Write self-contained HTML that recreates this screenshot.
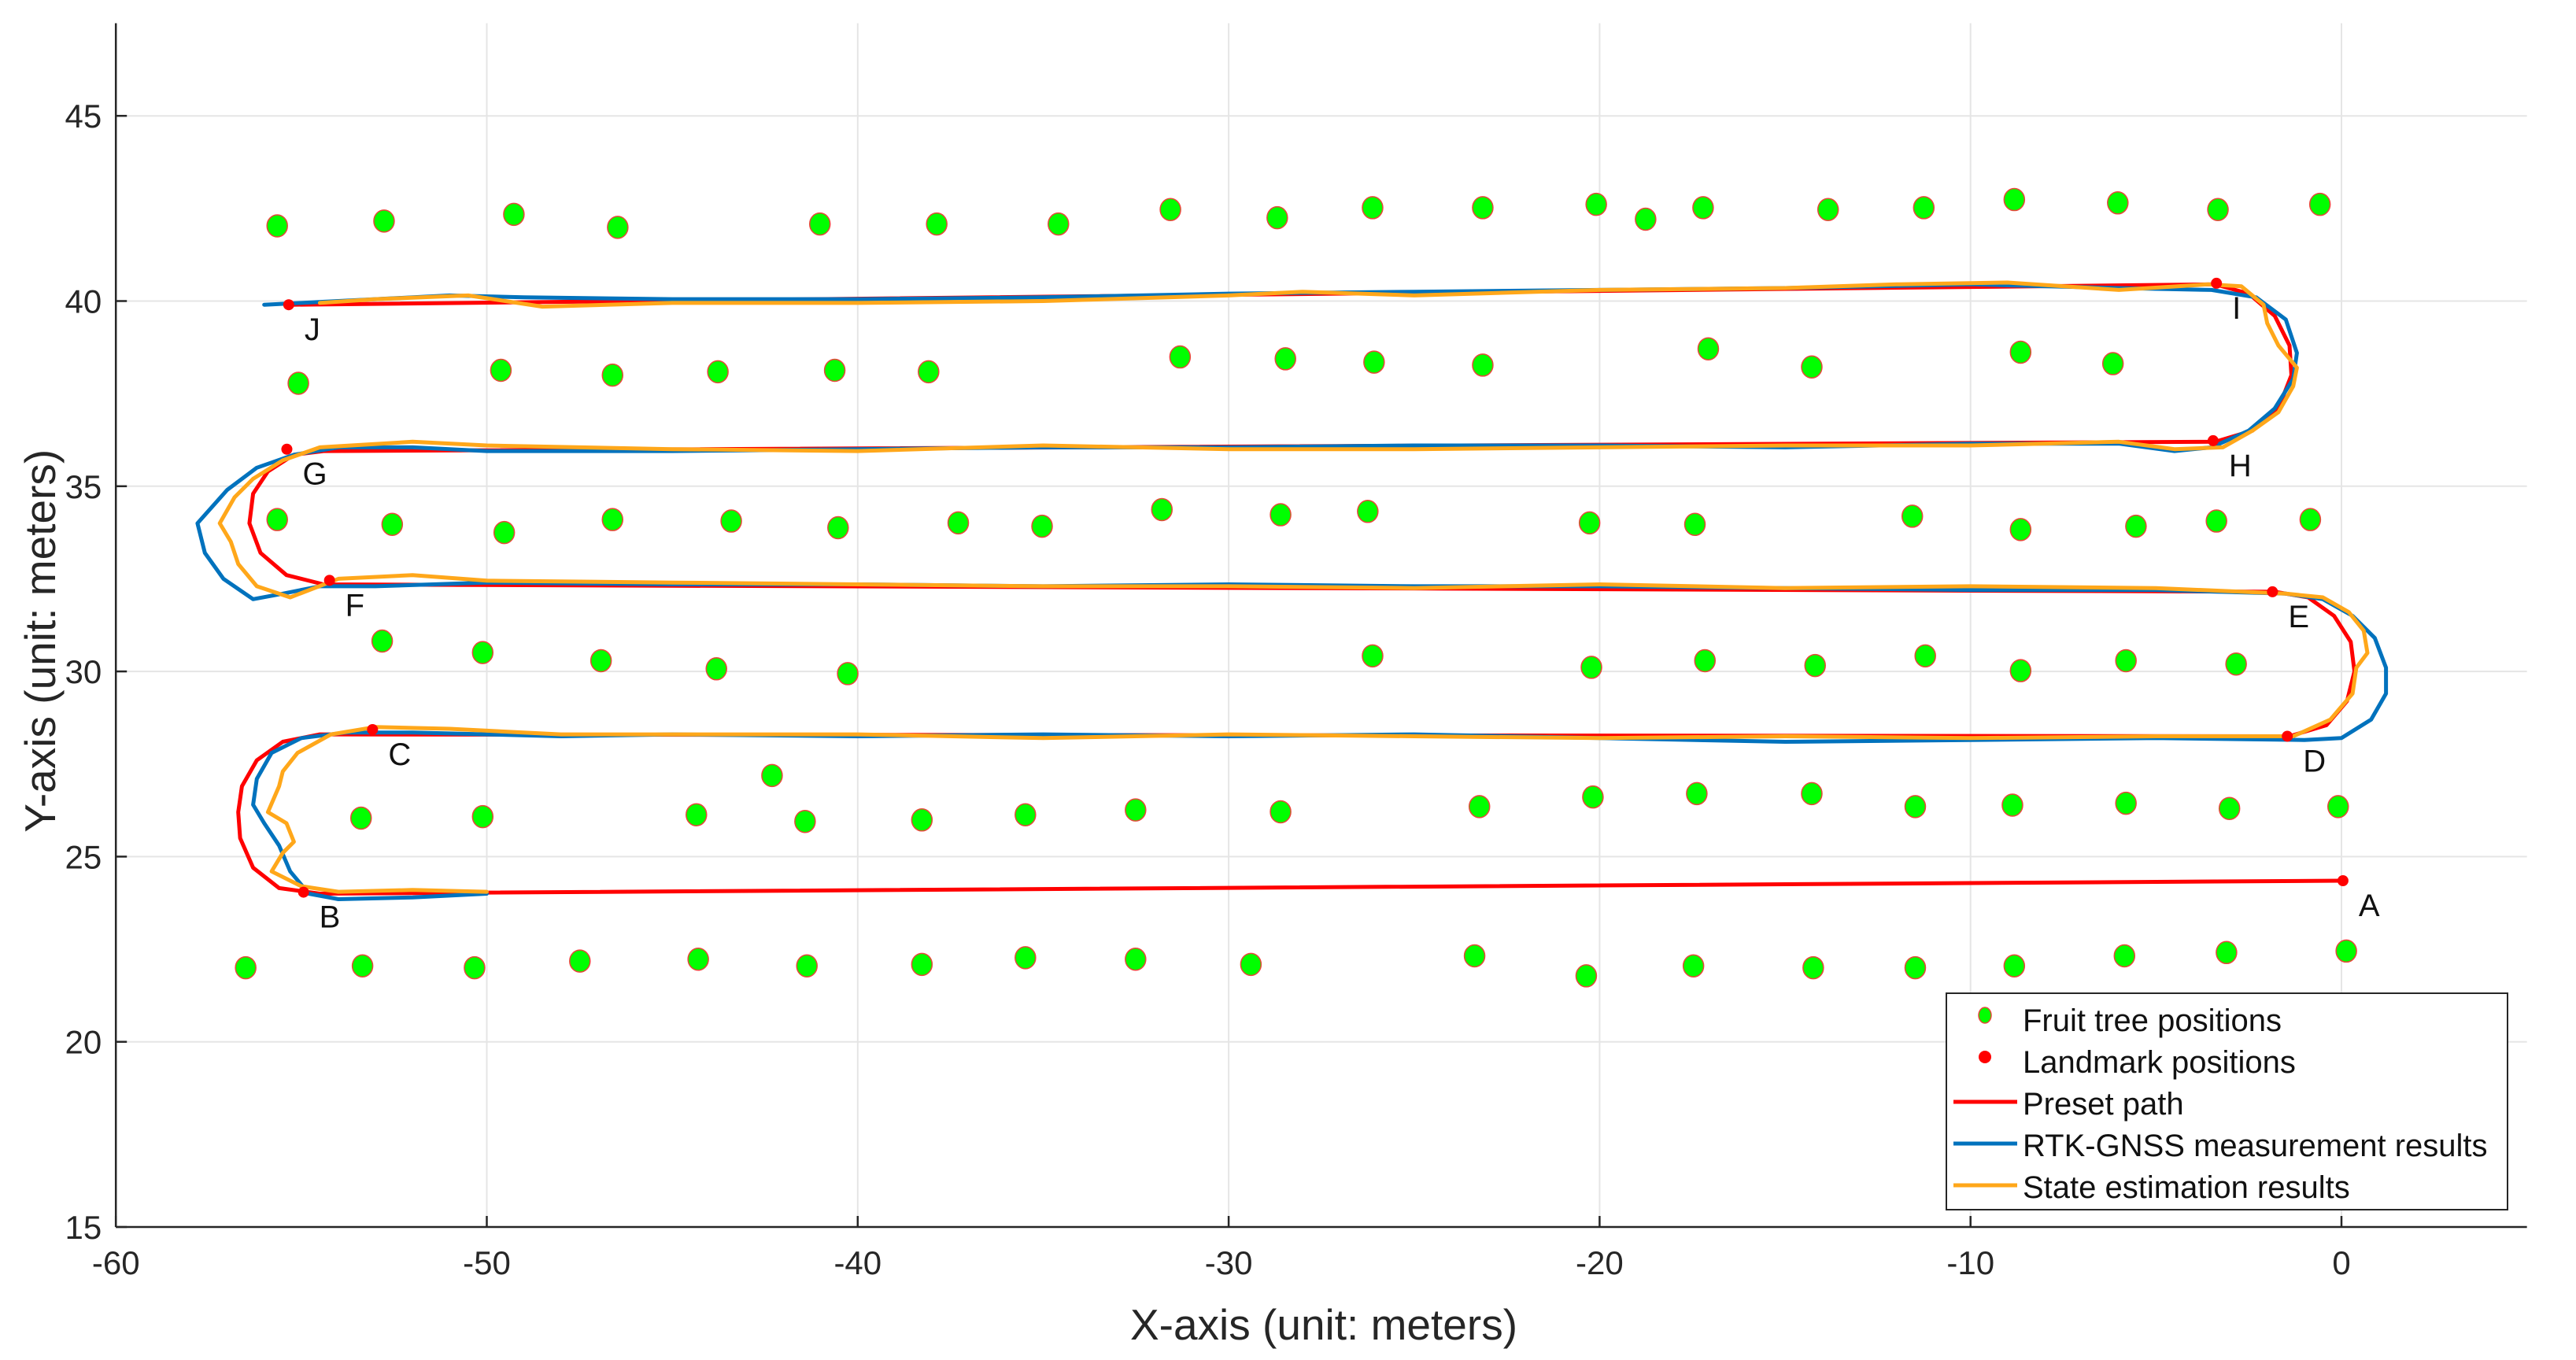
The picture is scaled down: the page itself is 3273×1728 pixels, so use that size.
<!DOCTYPE html>
<html><head><meta charset="utf-8"><style>
html,body{margin:0;padding:0;background:#fff;}
svg{display:block;font-family:"Liberation Sans",sans-serif;}
</style></head><body>
<svg id="chart" width="3273" height="1728" viewBox="0 0 3273 1728"></svg>
<script>
const xTicks=[-60,-50,-40,-30,-20,-10,0];
const yTicks=[15,20,25,30,35,40,45];
const treeX=[-55.65,-52.77,-49.27,-46.47,-41.02,-37.87,-34.59,-31.57,-28.69,-26.12,-23.15,-20.09,-18.76,-17.21,-13.84,-11.26,-8.82,-6.03,-3.33,-0.58,
-55.08,-49.62,-46.61,-43.77,-40.62,-38.09,-31.31,-28.47,-26.08,-23.15,-17.07,-14.28,-8.65,-6.16,
-55.65,-52.55,-49.53,-46.61,-43.41,-40.53,-37.29,-35.03,-31.8,-28.6,-26.25,-20.27,-17.43,-11.57,-8.65,-5.54,-3.37,-0.84,
-52.82,-50.11,-46.92,-43.81,-40.27,-26.12,-20.22,-17.16,-14.19,-11.22,-8.65,-5.81,-2.84,
-42.31,-53.39,-50.11,-44.35,-41.42,-38.27,-35.48,-32.51,-28.6,-23.24,-20.18,-17.38,-14.28,-11.49,-8.87,-5.81,-3.02,-0.09,
-56.5,-53.35,-50.33,-47.49,-44.3,-41.37,-38.27,-35.48,-32.51,-29.4,-23.37,-20.36,-17.47,-14.24,-11.49,-8.82,-5.85,-3.1,0.13];
const treeY=[42.03,42.16,42.34,41.99,42.08,42.08,42.08,42.47,42.25,42.52,42.52,42.61,42.21,42.52,42.47,42.52,42.74,42.65,42.47,42.61,
37.78,38.13,38.0,38.09,38.13,38.09,38.49,38.44,38.35,38.27,38.71,38.22,38.62,38.31,
34.1,33.97,33.75,34.1,34.06,33.88,34.01,33.92,34.37,34.23,34.32,34.01,33.97,34.19,33.83,33.92,34.06,34.1,
30.82,30.51,30.29,30.07,29.94,30.42,30.11,30.29,30.16,30.42,30.02,30.29,30.2,
27.19,26.04,26.08,26.13,25.95,25.99,26.13,26.26,26.21,26.35,26.61,26.7,26.7,26.35,26.39,26.44,26.3,26.35,
22.0,22.05,22.0,22.18,22.23,22.05,22.09,22.27,22.23,22.09,22.32,21.78,22.05,22.0,22.0,22.05,22.32,22.41,22.45];
const lmNames=["A","B","C","D","E","F","G","H","I","J"];
const lmX=[0.04,-54.94,-53.08,-1.46,-1.86,-54.24,-55.39,-3.46,-3.37,-55.34];
const lmY=[24.35,24.04,28.43,28.25,32.15,32.46,36.0,36.23,40.48,39.9];
const presetX=[0,-54.5,-55.6,-56.3,-56.65,-56.7,-56.6,-56.2,-55.5,-54.5,-1.4,-0.4,0.15,0.35,0.25,-0.2,-0.9,-1.8,-54.4,-55.4,-56.1,-56.4,-56.3,-55.9,-55.2,-54.4,-3.4,-2.4,-1.7,-1.35,-1.4,-1.8,-2.5,-3.4,-55.3];
const presetY=[24.35,24.0,24.15,24.7,25.5,26.2,26.9,27.6,28.1,28.3,28.25,28.55,29.2,30.0,30.8,31.5,32.0,32.15,32.35,32.6,33.2,34.0,34.8,35.4,35.85,35.95,36.2,36.5,37.1,38.0,38.8,39.6,40.2,40.45,39.9];
const rtkX=[-50,-52,-54,-54.8,-55.3,-55.6,-56.0,-56.3,-56.2,-55.8,-55.0,-53.8,-52,-48,-45,-40,-35,-30,-25,-20,-15,-10,-5,-1,0,0.8,1.2,1.2,0.9,0.3,-0.5,-1.5,-5,-10,-15,-20,-25,-30,-35,-40,-45,-50,-53,-54.5,-55.5,-56.3,-57.1,-57.6,-57.8,-57.0,-56.2,-55.2,-54,-52,-50,-45,-40,-35,-30,-25,-20,-15,-10,-6,-4.5,-3.5,-2.5,-1.8,-1.3,-1.2,-1.5,-2.3,-3.5,-6,-10,-15,-20,-25,-30,-35,-40,-45,-49,-51,-54,-56];
const rtkY=[24.0,23.9,23.85,24.0,24.6,25.3,25.9,26.4,27.1,27.8,28.2,28.35,28.35,28.25,28.3,28.25,28.3,28.25,28.3,28.2,28.1,28.15,28.2,28.15,28.2,28.7,29.4,30.1,30.9,31.5,31.95,32.1,32.2,32.2,32.25,32.3,32.3,32.35,32.3,32.35,32.35,32.4,32.3,32.3,32.1,31.95,32.5,33.2,34.0,34.9,35.5,35.85,36.05,36.05,35.95,35.95,36.0,36.05,36.05,36.1,36.1,36.05,36.15,36.15,35.95,36.05,36.5,37.1,37.9,38.6,39.5,40.1,40.3,40.35,40.45,40.35,40.3,40.25,40.2,40.1,40.05,40.05,40.1,40.15,40.0,39.9];
const estX=[-50,-52,-54,-55,-55.8,-55.5,-55.2,-55.4,-55.9,-55.6,-55.5,-55.1,-54.2,-53,-51,-48,-45,-40,-35,-30,-25,-20,-15,-10,-5,-1.3,-0.3,0.3,0.4,0.7,0.6,0.2,-0.5,-1.5,-5,-10,-15,-20,-25,-30,-35,-40,-45,-50,-52,-54,-55.3,-56.2,-56.7,-56.9,-57.2,-56.8,-56.3,-55.5,-54.5,-52,-50,-45,-40,-35,-30,-25,-20,-15,-10,-6,-4.5,-3.2,-2.4,-1.7,-1.3,-1.2,-1.7,-2.0,-2.1,-2.7,-3.6,-6,-9,-12,-15,-20,-25,-28,-30,-35,-40,-45,-48.5,-50.5,-53,-54.5];
const estY=[24.05,24.1,24.05,24.2,24.6,25.1,25.4,25.9,26.2,26.9,27.3,27.8,28.3,28.5,28.45,28.3,28.3,28.3,28.2,28.3,28.25,28.2,28.25,28.2,28.25,28.25,28.7,29.4,30.1,30.5,31.1,31.6,32.0,32.1,32.25,32.3,32.25,32.35,32.25,32.3,32.3,32.35,32.4,32.45,32.6,32.5,32.0,32.3,32.9,33.5,34.0,34.7,35.2,35.7,36.05,36.2,36.1,36.0,35.95,36.1,36.0,36.0,36.05,36.1,36.1,36.2,36.0,36.05,36.5,37.0,37.7,38.2,38.8,39.4,39.9,40.4,40.45,40.3,40.5,40.45,40.35,40.3,40.15,40.25,40.15,40.0,39.95,39.95,39.85,40.15,40.05,39.95];

const NS="http://www.w3.org/2000/svg";
const svg=document.getElementById('chart');
const X=v=>2975+v*47.13;
const Y=v=>1559-(v-15)*47.06;
function mk(tag,attrs,parent){const e=document.createElementNS(NS,tag);for(const k in attrs)e.setAttribute(k,attrs[k]);(parent||svg).appendChild(e);return e;}
const x0=X(-60),x1=X(5),y0=Y(15),y1=Y(47.5);
xTicks.forEach(t=>{const l=mk('line',{x1:X(t),x2:X(t),y1:y0,y2:y1,stroke:'#e5e5e5','stroke-width':2});

});
yTicks.forEach(t=>{const l=mk('line',{x1:x0,x2:x1,y1:Y(t),y2:Y(t),stroke:'#e5e5e5','stroke-width':2});

});
const ax=mk('line',{x1:x0,x2:x1,y1:y0,y2:y0,stroke:'#262626','stroke-width':2.5});


const ay=mk('line',{x1:x0,x2:x0,y1:y0,y2:y1,stroke:'#262626','stroke-width':2.5});


xTicks.forEach(t=>{mk('line',{x1:X(t),x2:X(t),y1:y0,y2:y0-14,stroke:'#262626','stroke-width':2.5});
const tx=mk('text',{x:X(t),y:y0+60,'text-anchor':'middle','font-size':42,fill:'#262626'});tx.textContent=t;

});
yTicks.forEach(t=>{mk('line',{x1:x0,x2:x0+14,y1:Y(t),y2:Y(t),stroke:'#262626','stroke-width':2.5});
const tx=mk('text',{x:x0-18,y:Y(t)+15,'text-anchor':'end','font-size':42,fill:'#262626'});tx.textContent=t;

});
const xl=mk('text',{x:1682,y:1702,'text-anchor':'middle','font-size':55,fill:'#262626'});xl.textContent='X-axis (unit: meters)';


const yl=mk('text',{x:0,y:0,'text-anchor':'middle','font-size':55,fill:'#262626',transform:'translate(70,'+((y0+y1)/2+20)+') rotate(-90)'});yl.textContent='Y-axis (unit: meters)';


for(let i=0;i<treeX.length;i++){const e=mk('ellipse',{cx:X(treeX[i]),cy:Y(treeY[i]),rx:13,ry:14,fill:'#00ff00',stroke:'#e8463a','stroke-width':1.5});

}
function path(xs,ys,color,name){let d='';for(let i=0;i<xs.length;i++)d+=(i?'L':'M')+X(xs[i]).toFixed(1)+','+Y(ys[i]).toFixed(1);
const p=mk('path',{d:d,fill:'none',stroke:color,'stroke-width':5,'stroke-linejoin':'round','stroke-linecap':'round'});

}
path(presetX,presetY,'#ff0000','preset-path-line');
path(rtkX,rtkY,'#0072bd','rtk-gnss-line');
path(estX,estY,'#ffa71a','state-estimation-line');
for(let i=0;i<lmX.length;i++){const c=mk('circle',{cx:X(lmX[i]),cy:Y(lmY[i]),r:7,fill:'#ff0000'});


const t=mk('text',{x:X(lmX[i])+20,y:Y(lmY[i])+45,'font-size':40,fill:'#111'});t.textContent=lmNames[i];

}
const lg=mk('g',{});


mk('rect',{x:2473,y:1262,width:713,height:275,fill:'#fff',stroke:'#262626','stroke-width':2},lg);
const labels=['Fruit tree positions','Landmark positions','Preset path','RTK-GNSS measurement results','State estimation results'];
const cols=['#00ff00','#ff0000','#ff0000','#0072bd','#ffa71a'];
labels.forEach((s,i)=>{const yy=1296+i*53;
if(i==0){mk('ellipse',{cx:2522,cy:yy-6,rx:8,ry:10,fill:'#00ff00',stroke:'#e8463a','stroke-width':1.5},lg);}
else if(i==1){mk('circle',{cx:2522,cy:yy-6,r:8,fill:'#ff0000'},lg);}
else{mk('line',{x1:2482,x2:2563,y1:yy-2,y2:yy-2,stroke:cols[i],'stroke-width':5},lg);}
const t=mk('text',{x:2570,y:yy+14,'font-size':40,fill:'#111'},lg);t.textContent=s;

});
</script>
</body></html>
